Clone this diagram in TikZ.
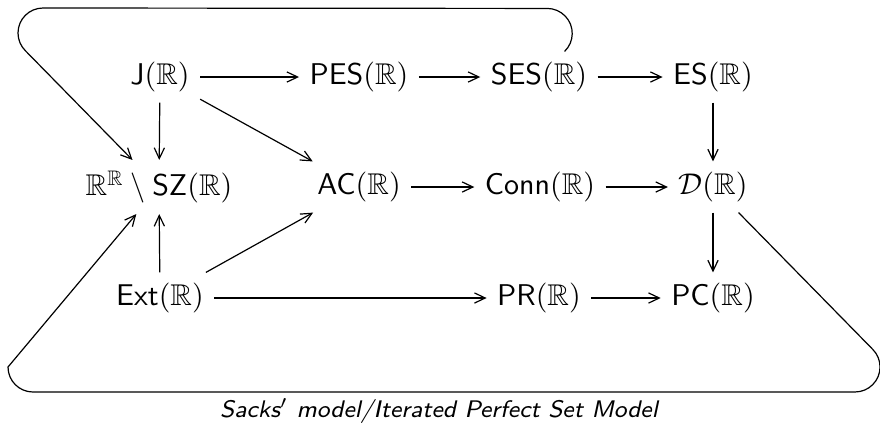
\documentclass[tikz,border=0pt]{standalone}
\usepackage{amssymb}
\usetikzlibrary{arrows.meta}
\begin{document}
\begin{tikzpicture}[x=0.3333pt,y=-0.3333pt,
  obj/.style={inner sep=3.33pt},
  arr/.style={line width=0.4pt,-{Straight Barb[length=3.6pt,width=3.4pt]}},
  loop/.style={line width=0.4pt,-{Straight Barb[length=3.6pt,width=3.4pt]}}]
\useasboundingbox (0,0) rectangle (880,422);
% nodes
\node[obj] (j)    at (160,77)  {$\mathsf{J}(\mathbb{R})$};
\node[obj] (pes)  at (359,77)  {$\mathsf{PES}(\mathbb{R})$};
\node[obj] (ses)  at (539,77)  {$\mathsf{SES}(\mathbb{R})$};
\node[obj] (es)   at (713,77)  {$\mathsf{ES}(\mathbb{R})$};
\node[obj] (sz)   at (159,187) {$\mathbb{R}^{\mathbb{R}}\setminus\mathsf{SZ}(\mathbb{R})$};
\node[obj] (ac)   at (359,187) {$\mathsf{AC}(\mathbb{R})$};
\node[obj] (conn) at (540,187) {$\mathsf{Conn}(\mathbb{R})$};
\node[obj] (d)    at (713,187) {$\mathcal{D}(\mathbb{R})$};
\node[obj] (ext)  at (160,298) {$\mathsf{Ext}(\mathbb{R})$};
\node[obj] (pr)   at (539,298) {$\mathsf{PR}(\mathbb{R})$};
\node[obj] (pc)   at (713,298) {$\mathsf{PC}(\mathbb{R})$};
\node (cap) at (439,411) {\footnotesize\sffamily\itshape Sacks$'$ model/Iterated Perfect Set Model};
% straight arrows
\draw[arr] (j) -- (pes);
\draw[arr] (pes) -- (ses);
\draw[arr] (ses) -- (es);
\draw[arr] (j) -- (sz);
\draw[arr] (j) -- (ac);
\draw[arr] (es) -- (d);
\draw[arr] (ac) -- (conn);
\draw[arr] (conn) -- (d);
\draw[arr] (d) -- (pc);
\draw[arr] (ext) -- (sz);
\draw[arr] (ext) -- (ac);
\draw[arr] (ext) -- (pr);
\draw[arr] (pr) -- (pc);
% loops
\coordinate (t1) at (43,8);
\coordinate (b1) at (872.7,349.3);
\coordinate (b2) at (33,392);
\draw[loop] (ses.45) arc[start angle=46, end angle=-90, radius=25]
  -- (t1) arc[start angle=270, end angle=134, radius=25] -- (sz);
\draw[loop] (d.-45) -- (b1) arc[start angle=-45, end angle=90, radius=25]
  -- (b2) arc[start angle=90, end angle=180, radius=25] -- (sz);
\end{tikzpicture}
\end{document}
